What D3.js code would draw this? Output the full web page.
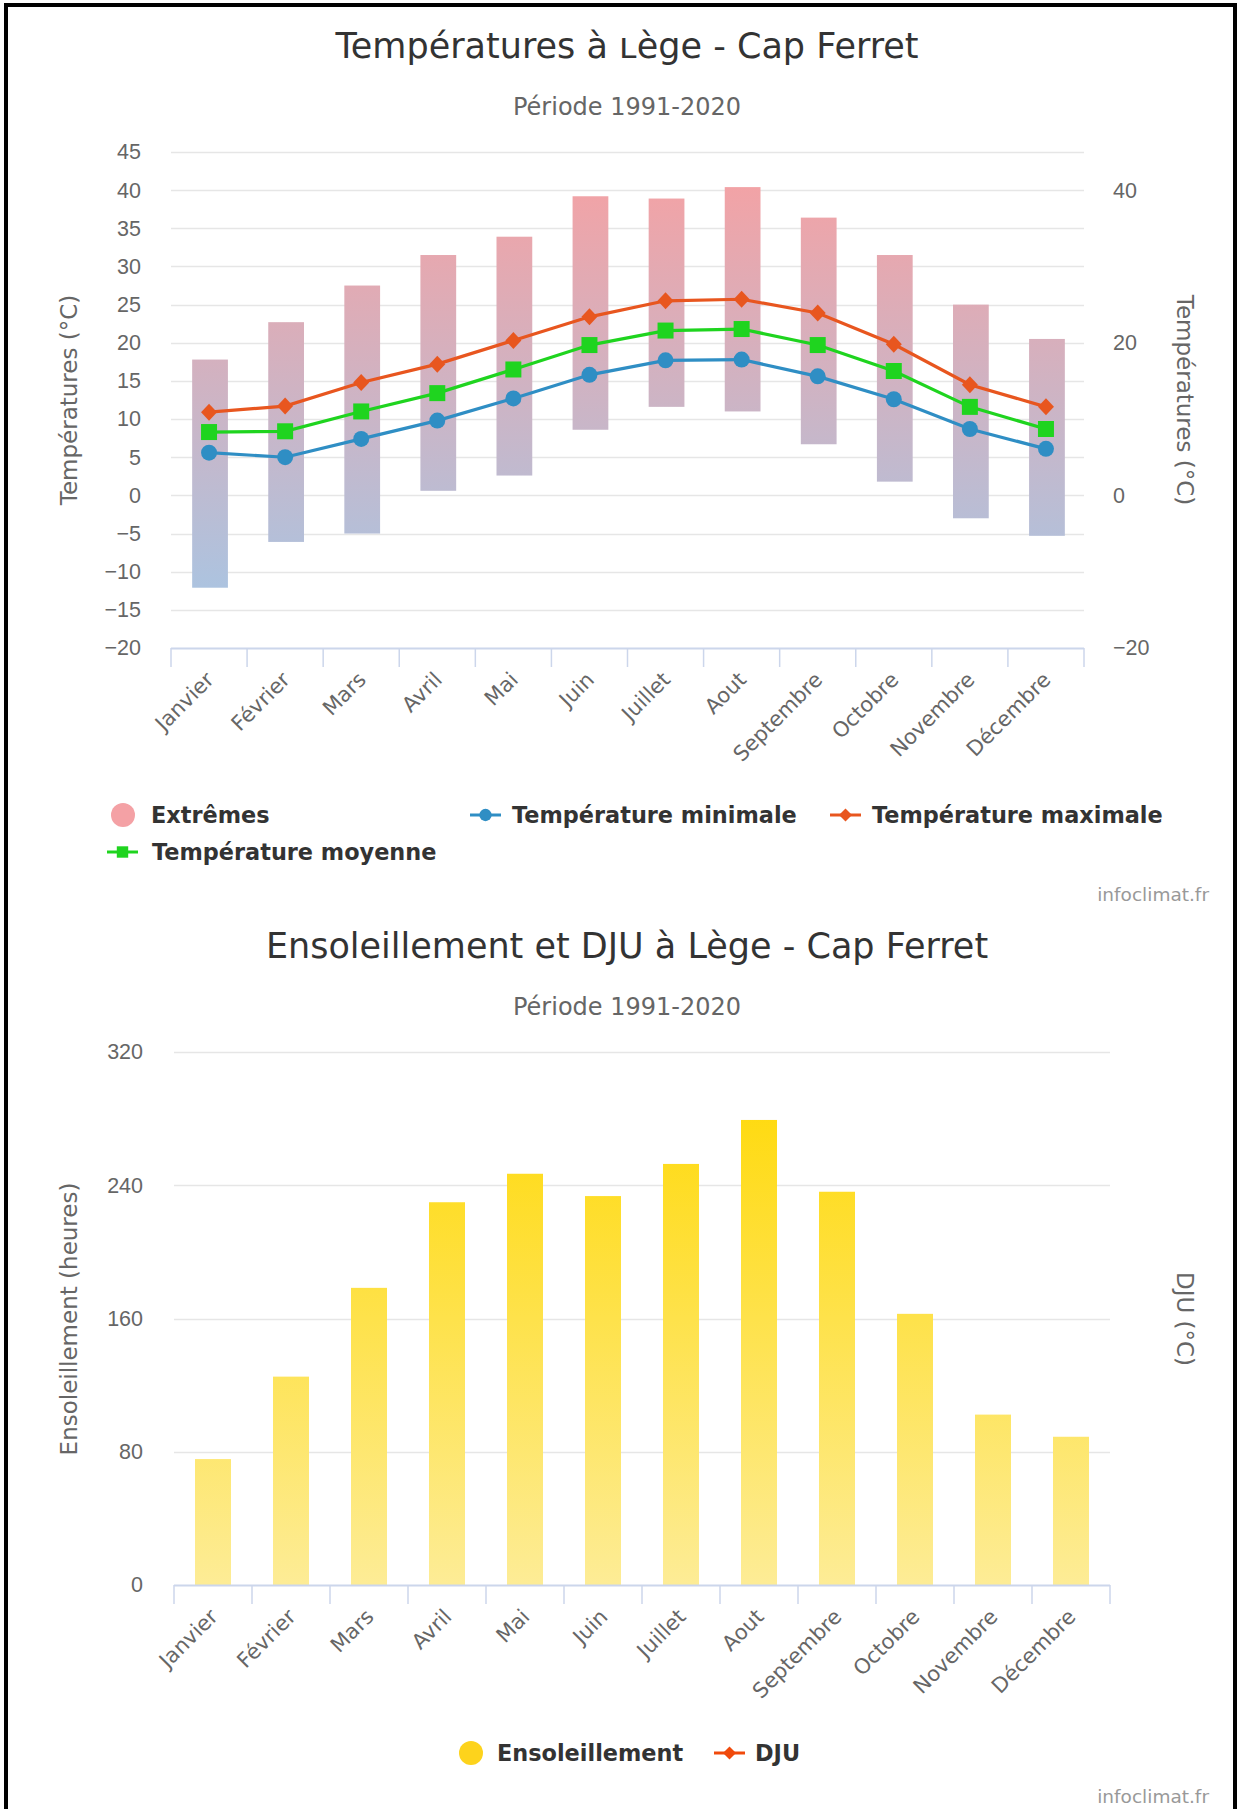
<!DOCTYPE html>
<html>
<head>
<meta charset="utf-8">
<script src="https://cdn.jsdelivr.net/npm/d3@7"></script>
<style>
  body { margin: 0; background: #fff; }
  svg { display: block; font-family: "DejaVu Sans", Verdana, sans-serif; }
</style>
</head>
<body>
<svg id="chart" width="1245" height="1809"></svg>
<script>
// values
const months = ["Janvier", "Février", "Mars", "Avril", "Mai", "Juin", "Juillet", "Aout", "Septembre", "Octobre", "Novembre", "Décembre"];
const extremeLow = [-12.1, -6.1, -5.0, 0.6, 2.6, 8.6, 11.6, 11.0, 6.7, 1.8, -3.0, -5.3];
const extremeHigh = [17.8, 22.7, 27.5, 31.5, 33.9, 39.2, 38.9, 40.4, 36.4, 31.5, 25.0, 20.5];
const tempMin = [5.6, 5.0, 7.4, 9.8, 12.7, 15.8, 17.7, 17.8, 15.6, 12.6, 8.7, 6.1];
const tempMoy = [8.3, 8.4, 11.0, 13.4, 16.5, 19.7, 21.6, 21.8, 19.7, 16.3, 11.6, 8.7];
const tempMax = [10.9, 11.7, 14.8, 17.2, 20.3, 23.4, 25.5, 25.7, 23.9, 19.8, 14.5, 11.6];
const sunshine = [75.6, 125.1, 178.4, 229.8, 246.9, 233.5, 252.8, 279.2, 236.1, 162.8, 102.3, 89.0];

const tempTicks = [-20, -15, -10, -5, 0, 5, 10, 15, 20, 25, 30, 35, 40, 45];
const tempTicksRight = [-20, 0, 20, 40];
const sunTicks = [0, 80, 160, 240, 320];

const cMin = "#2f8ec4", cMoy = "#1fd41f", cMax = "#e8561f";
const grid = "#e6e6e6", axisCol = "#ccd6eb", labelCol = "#666";

const svg = d3.select("#chart");

// black frame round the page
svg.append("path")
    .attr("d", "M6,1809 V5 H1235 V1809")
    .attr("fill", "none")
    .attr("stroke", "#000")
    .attr("stroke-width", 4);

const defs = svg.append("defs");

function addTitle(y, title, sub) {
    svg.append("text").attr("x", 627).attr("y", y)
        .attr("text-anchor", "middle").attr("fill", "#333")
        .style("font-size", "35px").text(title);
    svg.append("text").attr("x", 627).attr("y", y + 57)
        .attr("text-anchor", "middle").attr("fill", labelCol)
        .style("font-size", "24px").text(sub);
}

function credit(y) {
    svg.append("text").attr("x", 1209).attr("y", y)
        .attr("text-anchor", "end").attr("fill", "#999")
        .style("font-size", "18.5px").text("infoclimat.fr");
}

// x axis: line, boundary ticks, rotated month labels
function monthAxis(x, y0) {
    const g = svg.append("g");
    const [r0, r1] = x.range();
    g.append("line").attr("x1", r0).attr("x2", r1).attr("y1", y0 + 0.5).attr("y2", y0 + 0.5)
        .attr("stroke", axisCol).attr("stroke-width", 2);
    const bounds = months.map(m => x(m)).concat([r1]);
    g.selectAll(".tk").data(bounds).enter().append("line")
        .attr("x1", d => d).attr("x2", d => d)
        .attr("y1", y0).attr("y2", y0 + 19)
        .attr("stroke", axisCol).attr("stroke-width", 1.5);
    g.selectAll(".ml").data(months).enter().append("text")
        .attr("transform", d => `translate(${x(d) + x.bandwidth() / 2 + 6},${y0 + 33}) rotate(-45)`)
        .attr("text-anchor", "end")
        .attr("fill", labelCol)
        .style("font-size", "21px")
        .text(d => d);
}

function gridLines(y, ticks, x0, x1) {
    svg.append("g").selectAll("line").data(ticks.slice(1)).enter().append("line")
        .attr("x1", x0).attr("x2", x1)
        .attr("y1", d => Math.round(y(d)) + 0.5).attr("y2", d => Math.round(y(d)) + 0.5)
        .attr("stroke", grid).attr("stroke-width", 1.5);
}

function axisTitle(x, y, rot, txt) {
    svg.append("text")
        .attr("transform", `translate(${x},${y}) rotate(${rot})`)
        .attr("text-anchor", "middle").attr("dy", "0.35em")
        .attr("fill", labelCol).style("font-size", "23px").text(txt);
}

function styleTicks(sel) {
    sel.call(g => g.select(".domain").remove())
        .selectAll("text").attr("fill", labelCol).style("font-size", "21.5px").attr("font-family", null);
}

// ---------- chart 1 : temperatures ----------
addTitle(58, "Températures à ʟège - Cap Ferret", "Période 1991-2020");

const x1 = d3.scaleBand().domain(months).range([171, 1084]);
const y1 = d3.scaleLinear().domain([-20, 45]).range([648, 152]);

gridLines(y1, tempTicks, 171, 1084);

const axL = d3.axisLeft(y1).tickValues(tempTicks).tickSize(0).tickPadding(0);
svg.append("g").attr("transform", "translate(141,0)").call(axL).call(styleTicks);

const axR = d3.axisRight(y1).tickValues(tempTicksRight).tickSize(0).tickPadding(0);
svg.append("g").attr("transform", "translate(1113,0)").call(axR).call(styleTicks);

axisTitle(69, 400, -90, "Températures (°C)");
axisTitle(1185, 400, 90, "Températures (°C)");

const extGrad = defs.append("linearGradient").attr("id", "extGrad")
    .attr("gradientUnits", "userSpaceOnUse")
    .attr("x1", 0).attr("x2", 0).attr("y1", y1(45)).attr("y2", y1(-20));
extGrad.append("stop").attr("offset", 0).attr("stop-color", "#f8a0a1");
extGrad.append("stop").attr("offset", 1).attr("stop-color", "#a2c8e8");

const bw1 = x1.bandwidth() * 0.47;
svg.append("g").selectAll("rect").data(months).enter().append("rect")
    .attr("x", d => x1(d) + (x1.bandwidth() - bw1) / 2 + 1)
    .attr("width", bw1)
    .attr("y", (d, i) => y1(extremeHigh[i]))
    .attr("height", (d, i) => y1(extremeLow[i]) - y1(extremeHigh[i]))
    .attr("fill", "url(#extGrad)");

monthAxis(x1, 648);

const cx1 = m => x1(m) + x1.bandwidth() / 2;

function drawLine(vals, color, shape) {
    const line = d3.line().x((d, i) => cx1(months[i])).y(d => y1(d));
    svg.append("path").datum(vals).attr("d", line)
        .attr("fill", "none").attr("stroke", color).attr("stroke-width", 3.2);
    svg.append("g").selectAll("path").data(vals).enter().append("path")
        .attr("transform", (d, i) => `translate(${cx1(months[i])},${y1(d)})`)
        .attr("d", shape)
        .attr("fill", color);
}

const circleSym = d3.symbol(d3.symbolCircle, 200)();
const squareSym = d3.symbol(d3.symbolSquare, 256)();
const diamondSym = "M0,-8.5L8,0L0,8.5L-8,0Z";

drawLine(tempMax, cMax, diamondSym);
drawLine(tempMoy, cMoy, squareSym);
drawLine(tempMin, cMin, circleSym);

// legend
function legendText(x, y, txt) {
    svg.append("text").attr("x", x).attr("y", y).attr("dy", "0.36em")
        .attr("fill", "#333").style("font-size", "22.4px").style("font-weight", "bold").text(txt);
}
function legendLine(x0, y, color, shape) {
    svg.append("line").attr("x1", x0).attr("x2", x0 + 31).attr("y1", y).attr("y2", y)
        .attr("stroke", color).attr("stroke-width", 3);
    svg.append("path").attr("transform", `translate(${x0 + 15.5},${y})`)
        .attr("d", shape).attr("fill", color);
}

svg.append("circle").attr("cx", 123).attr("cy", 815).attr("r", 12).attr("fill", "#f4a1a5");
legendText(151, 815, "Extrêmes");
legendLine(470, 815, cMin, d3.symbol(d3.symbolCircle, 120)());
legendText(512, 815, "Température minimale");
legendLine(830, 815, cMax, "M0,-6.5L6.5,0L0,6.5L-6.5,0Z");
legendText(872, 815, "Température maximale");
legendLine(107, 852, cMoy, d3.symbol(d3.symbolSquare, 130)());
legendText(152, 852, "Température moyenne");

credit(901);

// ---------- chart 2 : sunshine ----------
addTitle(958, "Ensoleillement et DJU à Lège - Cap Ferret", "Période 1991-2020");

const x2 = d3.scaleBand().domain(months).range([174, 1110]);
const y2 = d3.scaleLinear().domain([0, 320]).range([1585, 1052]);

gridLines(y2, sunTicks, 174, 1110);

const axL2 = d3.axisLeft(y2).tickValues(sunTicks).tickSize(0).tickPadding(0);
svg.append("g").attr("transform", "translate(143,0)").call(axL2).call(styleTicks);

axisTitle(69, 1319, -90, "Ensoleillement (heures)");
axisTitle(1185, 1319, 90, "DJU (°C)");

const sunGrad = defs.append("linearGradient").attr("id", "sunGrad")
    .attr("gradientUnits", "userSpaceOnUse")
    .attr("x1", 0).attr("x2", 0).attr("y1", y2(320)).attr("y2", y2(0));
sunGrad.append("stop").attr("offset", 0).attr("stop-color", "#ffd800");
sunGrad.append("stop").attr("offset", 1).attr("stop-color", "#fdec96");

const bw2 = 36;
svg.append("g").selectAll("rect").data(months).enter().append("rect")
    .attr("x", d => x2(d) + (x2.bandwidth() - bw2) / 2)
    .attr("width", bw2)
    .attr("y", (d, i) => y2(sunshine[i]))
    .attr("height", (d, i) => y2(0) - y2(sunshine[i]))
    .attr("fill", "url(#sunGrad)");

monthAxis(x2, 1585);

svg.append("circle").attr("cx", 471).attr("cy", 1753).attr("r", 12).attr("fill", "#fdd31c");
legendText(497, 1753, "Ensoleillement");
legendLine(714, 1753, "#f04a0c", "M0,-6.5L6.5,0L0,6.5L-6.5,0Z");
legendText(755, 1753, "DJU");

credit(1803);
</script>
</body>
</html>
